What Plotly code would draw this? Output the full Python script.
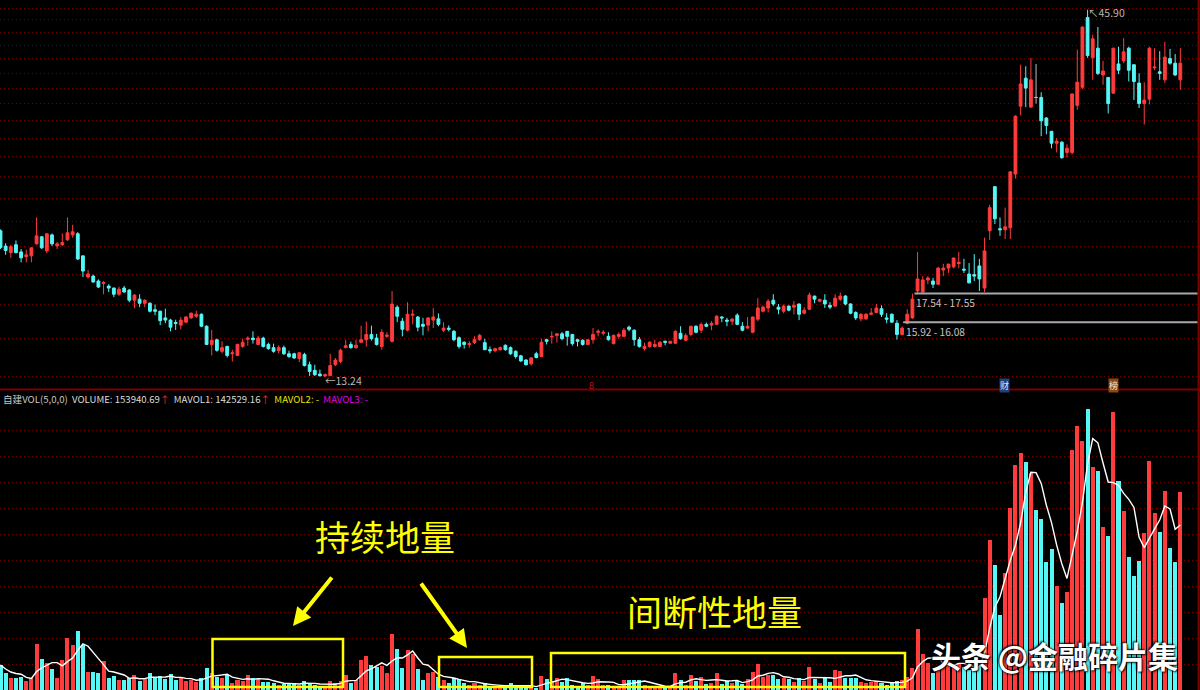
import plotly.graph_objects as go
import pandas as pd

# ---------------- data ----------------
open_ = [21.70, 20.60, 20.15, 20.70, 20.20, 19.87, 19.93, 20.76, 21.26, 20.27,
         21.40, 20.62, 20.70, 21.05, 21.40, 21.48, 19.93, 18.55, 18.61, 18.30,
         18.15, 17.99, 17.87, 17.50, 17.87, 17.75, 17.15, 17.21, 16.97, 16.97,
         16.60, 16.52, 16.15, 16.03, 15.90, 15.76, 15.92, 16.15, 16.24, 16.35,
         15.70, 14.76, 15.00, 14.42, 14.66, 14.30, 14.22, 14.66, 15.02, 15.08,
         14.76, 15.08, 14.76, 14.60, 14.45, 14.60, 14.30, 14.30, 14.07, 14.27,
         13.78, 13.52, 13.35, 13.26, 13.28, 13.78, 13.93, 14.60, 14.76, 14.60,
         14.87, 15.00, 15.27, 15.08, 14.66, 15.17, 14.92, 16.75, 15.97, 15.49,
         16.30, 16.20, 15.80, 15.76, 16.03, 16.10, 15.49, 15.60, 15.43, 15.10,
         14.87, 14.76, 14.85, 15.00, 14.85, 14.50, 14.45, 14.50, 14.72, 14.60,
         14.42, 14.20, 14.00, 13.82, 14.30, 14.17, 15.00, 15.14, 15.22, 15.30,
         15.43, 15.27, 15.00, 14.97, 14.76, 15.00, 15.38, 15.33, 15.17, 14.80,
         15.17, 15.17, 15.65, 15.49, 15.00, 14.55, 14.66, 14.66, 14.66, 14.92,
         14.82, 14.82, 15.33, 14.97, 15.27, 15.70, 15.49, 15.80, 15.76, 15.80,
         16.20, 16.03, 15.97, 16.30, 15.70, 15.60, 15.38, 16.08, 16.52, 16.70,
         17.15, 16.75, 16.52, 16.81, 16.75, 16.93, 16.41, 16.63, 17.39, 17.09,
         17.15, 16.85, 16.81, 17.20, 17.39, 16.93, 16.45, 16.10, 16.10, 16.35,
         16.45, 16.66, 16.15, 16.35, 15.86, 15.27, 15.86, 16.15, 17.69, 17.63,
         18.37, 18.30, 18.10, 19.00, 19.12, 19.20, 19.42, 19.05, 18.74, 18.70,
         19.26, 17.87, 21.70, 25.20, 21.85, 21.78, 21.92, 26.30, 33.10, 36.40,
         33.00, 34.10, 34.10, 31.80, 30.40, 29.20, 29.30, 28.30, 28.30, 33.20,
         35.30, 44.70, 39.00, 40.30, 36.80, 36.50, 34.60, 38.20, 38.60, 40.30,
         38.10, 35.80, 33.40, 33.90, 37.70, 37.20, 36.20, 38.90, 38.30, 36.20]

high = [21.80, 20.80, 20.70, 21.00, 20.40, 20.35, 20.50, 22.70, 21.30, 21.50,
        21.50, 20.90, 21.50, 22.70, 22.15, 21.60, 19.95, 19.00, 18.70, 18.40,
        18.30, 18.10, 17.90, 17.95, 18.00, 17.80, 17.50, 17.50, 17.20, 17.03,
        16.90, 16.55, 16.66, 16.10, 16.05, 16.20, 16.26, 16.45, 16.55, 16.40,
        15.75, 15.50, 15.05, 14.92, 14.70, 14.50, 14.80, 15.05, 15.17, 15.43,
        15.20, 15.15, 14.85, 14.80, 14.72, 14.70, 14.45, 14.35, 14.37, 14.35,
        13.93, 13.78, 13.55, 13.38, 14.30, 14.10, 14.55, 15.00, 14.90, 15.00,
        15.73, 15.95, 15.73, 15.30, 15.54, 15.38, 17.69, 16.85, 16.15, 17.03,
        16.63, 16.25, 16.15, 16.20, 16.70, 16.40, 15.92, 15.75, 15.50, 15.17,
        14.92, 14.92, 15.17, 15.30, 15.05, 14.66, 14.60, 14.66, 14.76, 14.66,
        14.47, 14.25, 14.05, 14.15, 14.40, 15.05, 15.05, 15.43, 15.32, 15.40,
        15.45, 15.30, 15.05, 15.02, 15.02, 15.60, 15.54, 15.49, 15.38, 15.27,
        15.38, 15.60, 15.73, 15.54, 15.14, 14.85, 14.92, 15.00, 14.92, 14.95,
        14.94, 15.49, 15.70, 15.33, 15.72, 15.75, 15.90, 15.90, 15.97, 16.30,
        16.24, 16.15, 16.15, 16.40, 15.92, 16.20, 16.22, 17.27, 16.85, 17.21,
        17.50, 16.93, 16.90, 16.85, 17.10, 16.95, 16.75, 17.60, 17.41, 17.23,
        17.50, 17.03, 17.50, 17.60, 17.45, 16.97, 16.52, 16.41, 16.41, 16.70,
        16.93, 16.85, 16.41, 16.40, 16.03, 15.70, 16.63, 17.54, 20.20, 18.60,
        18.60, 18.50, 19.20, 19.40, 19.40, 19.80, 20.20, 19.73, 19.45, 20.05,
        19.73, 21.20, 23.70, 25.25, 22.70, 23.47, 26.55, 32.10, 38.10, 37.90,
        39.00, 38.20, 34.70, 31.90, 30.45, 29.70, 29.40, 29.10, 34.55, 40.10,
        43.35, 45.90, 42.20, 43.30, 38.60, 36.55, 40.35, 40.50, 41.70, 40.50,
        38.15, 37.00, 35.90, 40.50, 40.30, 39.90, 41.20, 40.20, 39.50, 40.30]

low = [20.40, 20.00, 19.80, 20.10, 19.50, 19.50, 19.50, 20.70, 20.40, 20.10,
       20.60, 20.40, 20.60, 20.97, 21.20, 19.65, 18.55, 18.45, 18.20, 17.87,
       17.50, 17.63, 17.33, 17.40, 17.60, 17.03, 16.69, 16.75, 16.75, 16.45,
       16.30, 15.76, 15.86, 15.43, 15.50, 15.54, 15.86, 16.10, 16.15, 15.65,
       14.74, 14.22, 14.40, 14.32, 14.12, 13.93, 14.20, 14.60, 14.70, 14.80,
       14.72, 14.60, 14.50, 14.35, 14.32, 14.25, 14.10, 14.05, 13.90, 13.70,
       13.26, 13.26, 13.25, 13.24, 13.26, 13.72, 13.85, 14.58, 14.55, 14.55,
       14.85, 14.65, 14.95, 14.70, 14.50, 15.08, 14.85, 15.92, 15.17, 15.43,
       15.80, 15.43, 15.22, 15.43, 15.60, 15.70, 15.38, 15.43, 14.92, 14.55,
       14.55, 14.60, 14.78, 14.95, 14.48, 14.32, 14.37, 14.45, 14.45, 14.25,
       14.07, 13.90, 13.74, 13.74, 14.08, 14.15, 14.76, 14.80, 14.85, 14.97,
       14.70, 14.70, 14.66, 14.70, 14.72, 14.80, 15.17, 15.22, 14.95, 14.76,
       15.05, 15.14, 15.43, 14.70, 14.60, 14.45, 14.60, 14.60, 14.64, 14.72,
       14.80, 14.80, 15.00, 14.92, 15.17, 15.33, 15.33, 15.65, 15.49, 15.76,
       15.92, 15.70, 15.76, 15.76, 15.43, 15.58, 15.33, 15.97, 16.45, 16.45,
       16.81, 16.35, 16.40, 16.52, 16.35, 16.03, 16.35, 16.58, 16.97, 17.03,
       16.70, 16.63, 16.75, 17.10, 16.85, 16.35, 16.03, 15.97, 16.03, 16.30,
       16.41, 16.20, 15.86, 15.90, 15.00, 15.22, 15.80, 16.10, 17.55, 17.57,
       18.10, 17.87, 18.05, 18.61, 18.80, 19.10, 19.12, 18.80, 18.15, 18.30,
       17.69, 17.63, 21.04, 22.20, 21.33, 21.10, 21.10, 25.90, 32.10, 33.00,
       32.95, 33.40, 29.90, 30.10, 28.70, 28.30, 27.70, 27.80, 28.10, 32.70,
       35.10, 39.00, 36.20, 36.80, 35.60, 32.30, 34.55, 36.90, 38.30, 36.00,
       33.80, 32.90, 31.10, 33.30, 37.40, 36.20, 35.80, 38.10, 36.70, 35.00]

close = [20.50, 20.30, 20.55, 20.15, 19.80, 20.00, 20.48, 21.33, 20.48, 21.48,
         20.76, 20.76, 20.85, 21.55, 21.63, 19.72, 18.93, 18.74, 18.24, 17.93,
         18.20, 17.87, 17.50, 17.80, 17.63, 17.15, 17.45, 16.97, 17.15, 16.52,
         16.52, 16.00, 16.03, 15.65, 15.85, 16.03, 16.20, 16.41, 16.35, 15.70,
         14.76, 14.97, 14.47, 14.60, 14.22, 14.35, 14.76, 14.87, 15.08, 15.00,
         15.08, 14.66, 14.55, 14.42, 14.60, 14.30, 14.17, 14.10, 14.35, 13.74,
         13.47, 13.32, 13.27, 13.32, 13.74, 14.00, 14.47, 14.70, 14.60, 14.72,
         15.00, 15.27, 15.05, 14.76, 15.38, 15.23, 16.93, 16.24, 15.54, 16.35,
         16.35, 15.65, 15.70, 16.15, 16.20, 15.80, 15.60, 15.54, 15.00, 14.66,
         14.76, 14.80, 15.00, 15.22, 14.50, 14.45, 14.55, 14.60, 14.50, 14.30,
         14.17, 13.96, 13.78, 14.10, 14.12, 14.87, 14.92, 15.17, 15.30, 15.05,
         15.17, 14.80, 14.92, 14.76, 15.00, 15.27, 15.43, 15.38, 15.00, 15.22,
         15.27, 15.49, 15.54, 15.00, 14.66, 14.66, 14.87, 14.76, 14.87, 14.87,
         14.92, 15.43, 15.05, 15.22, 15.70, 15.38, 15.80, 15.70, 15.86, 16.24,
         16.15, 15.97, 16.08, 15.80, 15.49, 15.70, 16.20, 16.70, 16.75, 17.09,
         16.93, 16.63, 16.81, 16.58, 16.85, 16.35, 16.58, 17.45, 17.21, 17.20,
         16.93, 16.75, 17.27, 17.39, 16.93, 16.41, 16.15, 16.35, 16.35, 16.41,
         16.70, 16.35, 16.08, 15.92, 15.27, 15.60, 16.35, 17.21, 18.43, 18.37,
         18.49, 18.10, 19.12, 19.12, 19.38, 19.79, 19.50, 18.99, 18.19, 18.61,
         18.43, 20.27, 23.47, 22.60, 21.78, 21.99, 26.50, 32.00, 35.70, 35.20,
         36.20, 34.10, 31.50, 31.00, 29.20, 29.40, 27.80, 28.70, 34.50, 35.90,
         43.30, 39.30, 41.60, 37.00, 37.30, 33.40, 40.30, 37.40, 39.80, 37.40,
         36.00, 33.40, 33.80, 40.30, 37.80, 37.00, 39.10, 38.30, 36.80, 38.30]

volume = [19500, 13260, 9360, 9360, 10140, 7020, 9360, 35880, 24180, 21060,
          16380, 9360, 23400, 40560, 35100, 46020, 35100, 14040, 14040, 13260,
          22620, 9360, 10920, 7800, 7800, 9360, 11700, 7020, 8580, 13260,
          9360, 10920, 8580, 12480, 7800, 9360, 7020, 7800, 6240, 9360,
          17160, 13260, 10140, 9360, 11700, 5460, 7800, 7020, 11700, 9360,
          8580, 6240, 6240, 5460, 3900, 4680, 5460, 5460, 3900, 7020,
          5460, 3900, 3120, 3120, 7020, 5460, 7020, 11700, 5460, 7800,
          23400, 26520, 19500, 17940, 18720, 13260, 43680, 31980, 17160, 31200,
          28080, 16380, 7800, 13260, 14040, 10140, 7800, 5460, 9360, 8580,
          5460, 3900, 5460, 3900, 5460, 3120, 3120, 2340, 2340, 5460,
          3900, 3120, 2340, 2340, 1560, 10920, 8580, 7020, 9360, 6240,
          9360, 3900, 3120, 5460, 3900, 10920, 8580, 3900, 3900, 2340,
          2340, 7800, 7800, 7800, 7800, 3900, 3120, 3120, 2340, 2340,
          3120, 13260, 7800, 3900, 11700, 7020, 10140, 4680, 5460, 13260,
          4680, 7020, 5460, 7020, 4680, 8580, 14040, 20280, 10140, 11700,
          11700, 8580, 9360, 8580, 6240, 9360, 7020, 17940, 8580, 5460,
          9360, 6240, 15600, 14820, 9360, 9360, 9360, 6240, 5460, 6240,
          7020, 5460, 3900, 5460, 7020, 7800, 10140, 17160, 47580, 28080,
          21060, 13260, 17940, 23400, 23400, 17940, 21060, 17940, 15600, 17940,
          18720, 71760, 117000, 97500, 58500, 91260, 141960, 175500, 184860, 177840,
          169260, 140400, 133380, 99840, 109980, 81120, 67860, 76440, 187200, 205920,
          194220, 219180, 173940, 170820, 127140, 120120, 216840, 163020, 139620, 103740,
          88920, 100620, 122460, 178620, 138060, 123240, 155220, 110760, 99840, 154440]

price_grid = [13.24, 15.07, 16.90, 18.73, 20.56, 22.39, 24.22, 26.05, 27.88, 29.71,
              31.54, 33.37, 35.20, 37.03, 38.86, 40.69, 42.52, 44.35, 46.18]
volume_grid = [20280, 40560, 60840, 81120, 101400, 121680, 141960, 162240, 182520, 202800]

gap_lines = [17.54, 15.92]
gap_labels = ["17.54 - 17.55", "15.92 - 16.08"]
gap_start = [177.4, 175.2]

header_vol = "153940.69"
header_ma1 = "142529.16"

# ---------------- styling ----------------
RED = "#ff3b3b"
CYAN = "#55f7f7"
GRAY = "#bdbdbd"
GRID = "#6e0000"
YEL = "#ffff00"
W, H = 1200, 690

idx = list(range(len(close)))
up = [i for i in idx if close[i] > open_[i]]
dn = [i for i in idx if close[i] < open_[i]]
fl = [i for i in idx if close[i] == open_[i]]


def sub(arr, ids):
    return [arr[i] for i in ids]


fig = go.Figure()
for ids, col in [(up, RED), (dn, CYAN), (fl, GRAY)]:
    fig.add_trace(go.Candlestick(
        x=ids, open=sub(open_, ids), high=sub(high, ids), low=sub(low, ids), close=sub(close, ids),
        increasing=dict(line=dict(color=col, width=1), fillcolor=col),
        decreasing=dict(line=dict(color=col, width=1), fillcolor=col),
        whiskerwidth=0, xaxis="x", yaxis="y", showlegend=False, hoverinfo="skip"))

vcolors = [RED if close[i] > open_[i] else CYAN for i in idx]
fig.add_trace(go.Bar(x=idx, y=volume, marker=dict(color=vcolors, line=dict(width=0)),
                     width=0.78, xaxis="x", yaxis="y2", showlegend=False, hoverinfo="skip"))

ma5 = pd.Series(volume).rolling(5, min_periods=1).mean()
fig.add_trace(go.Scatter(x=idx, y=ma5, mode="lines", line=dict(color="#ffffff", width=1.4),
                         xaxis="x", yaxis="y2", showlegend=False, hoverinfo="skip"))

x_right = 232.4
for yv, xs in zip(gap_lines, gap_start):
    fig.add_trace(go.Scatter(x=[xs, x_right], y=[yv, yv], mode="lines",
                             line=dict(color="#a8a8a8", width=2), xaxis="x", yaxis="y",
                             showlegend=False, hoverinfo="skip"))


def px(x):
    return x / W


def py(y):
    return 1 - y / H


price_top, price_bot = 0, 388
vol_top = 392

fig.update_layout(
    width=W, height=H, margin=dict(l=0, r=0, t=0, b=0),
    paper_bgcolor="#000000", plot_bgcolor="#000000",
    boxgap=0.22, bargap=0, showlegend=False,
    xaxis=dict(range=[-0.097, 232.82], showgrid=False, zeroline=False, showticklabels=False,
               ticks="", rangeslider=dict(visible=False), anchor="y2", showline=False),
    yaxis=dict(type="log", range=[1.10496, 1.67624], domain=[py(price_bot), 1],
               tickvals=price_grid, showticklabels=False, ticks="", zeroline=False,
               gridcolor=GRID, griddash="1px,3px", gridwidth=1, showline=False),
    yaxis2=dict(range=[0, (H - vol_top) * 780], domain=[0, py(vol_top)],
                tickvals=volume_grid, showticklabels=False, ticks="", zeroline=False,
                gridcolor=GRID, griddash="1px,3px", gridwidth=1, showline=False),
    font=dict(family="Noto Sans CJK SC, Noto Sans, sans-serif"),
)

shapes = [
    dict(type="line", xref="paper", yref="paper", x0=0, x1=1, y0=py(389.5), y1=py(389.5),
         line=dict(color="#7a0000", width=2)),
    dict(type="line", xref="paper", yref="paper", x0=px(1198.5), x1=px(1198.5), y0=0, y1=1,
         line=dict(color="#7a0000", width=2)),
]
for (x0, y0, x1, y1) in [(212.5, 639, 343, 687), (439, 657, 532, 687), (551, 653, 905, 687)]:
    shapes.append(dict(type="rect", xref="paper", yref="paper", x0=px(x0), x1=px(x1),
                       y0=py(y1), y1=py(y0), line=dict(color=YEL, width=2.5),
                       fillcolor="rgba(0,0,0,0)"))
fig.update_layout(shapes=shapes)

ann = []
nb = "\u00a0"
hdr = (f'<span style="color:#c8c8c8">自建VOL(5,0,0)</span>{nb}{nb}'
       f'<span style="color:#dcdcdc">VOLUME: {header_vol}</span><span style="color:#ff2020">↑</span>{nb}{nb}'
       f'<span style="color:#dcdcdc">MAVOL1: {header_ma1}</span><span style="color:#ff2020">↑</span>{nb}{nb}'
       f'<span style="color:#e6e600">MAVOL2: -</span>{nb}{nb}'
       f'<span style="color:#e600e6">MAVOL3: -</span>')
ann.append(dict(xref="paper", yref="paper", x=px(1), y=py(398.5), xanchor="left", yanchor="middle",
                text=hdr, showarrow=False, font=dict(size=9.6, color="#dcdcdc")))

for txt, x0, y0 in zip(gap_labels, [914, 904], [302.5, 331.5]):
    ann.append(dict(xref="paper", yref="paper", x=px(x0), y=py(y0), xanchor="left", yanchor="middle",
                    text=txt, showarrow=False, font=dict(size=10.2, color="#c4c4c4")))

ann.append(dict(xref="paper", yref="paper", x=px(323), y=py(380.5), xanchor="left", yanchor="middle",
                text="←13.24", showarrow=False, font=dict(size=10.5, color="#b8b8b8")))
ann.append(dict(xref="paper", yref="paper", x=px(1086), y=py(12), xanchor="left", yanchor="middle",
                text="↖45.90", showarrow=False, font=dict(size=10.5, color="#b8b8b8")))

ann.append(dict(xref="paper", yref="paper", x=px(591.5), y=py(386), xanchor="center", yanchor="middle",
                text="8", showarrow=False, font=dict(size=9, color="#d01010")))
ann.append(dict(xref="paper", yref="paper", x=px(1004), y=py(386), xanchor="center", yanchor="middle",
                text="财", showarrow=False, bgcolor="#22407a", borderpad=0,
                font=dict(size=9, color="#d8e4ff")))
ann.append(dict(xref="paper", yref="paper", x=px(1113), y=py(386), xanchor="center", yanchor="middle",
                text="榜", showarrow=False, bgcolor="#8a4a12", borderpad=0,
                font=dict(size=9, color="#ffe6c8")))

ann.append(dict(xref="paper", yref="paper", x=px(385), y=py(535), xanchor="center", yanchor="middle",
                text="持续地量", showarrow=False, font=dict(size=35, color=YEL)))
ann.append(dict(xref="paper", yref="paper", x=px(714), y=py(610), xanchor="center", yanchor="middle",
                text="间断性地量", showarrow=False, font=dict(size=35, color=YEL)))
ann.append(dict(xref="paper", yref="paper", x=px(1054), y=py(655), xanchor="center", yanchor="middle",
                text="头条 @金融碎片集", showarrow=False,
                font=dict(size=30, color="#ffffff", weight=700,
                          shadow="1px 1px 2px #000000, -1px -1px 2px #000000")))

for (tx, ty, ax, ay) in [(293, 626, 40, -50), (467, 648, -47, -66)]:
    ann.append(dict(xref="paper", yref="paper", x=px(tx), y=py(ty), ax=ax, ay=ay,
                    axref="pixel", ayref="pixel", text="", showarrow=True,
                    arrowcolor=YEL, arrowwidth=4, arrowhead=2, arrowsize=0.9))

fig.update_layout(annotations=ann)

fig.write_html("out.html", config={"displayModeBar": False},
               post_script="document.body.style.margin='0';document.body.style.overflow='hidden';")
